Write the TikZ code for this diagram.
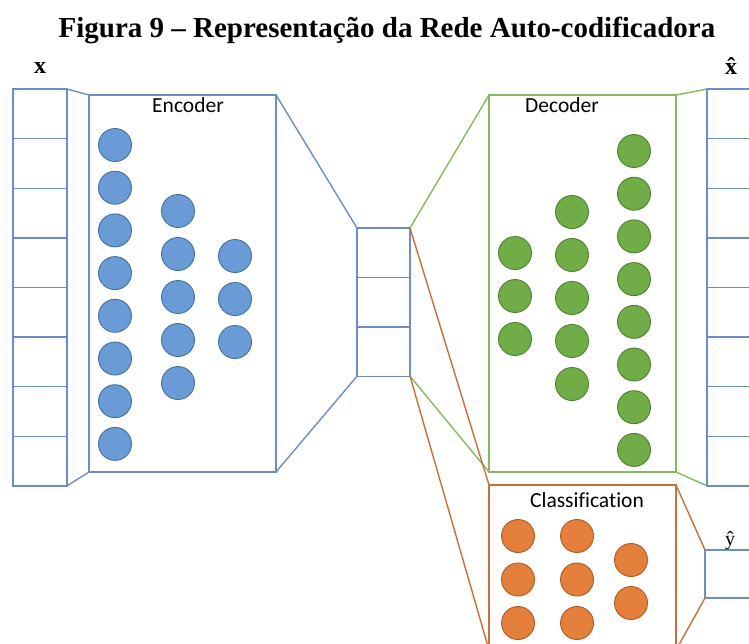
\documentclass[tikz,border=0pt]{standalone}
\usepackage{fontspec}
\setmainfont{Liberation Serif}
\newfontfamily\calibri[Ligatures=NoCommon]{Carlito}
\usepackage{tikz}

\definecolor{lineblue}{HTML}{6C8EC4}
\definecolor{fillblue}{HTML}{6A9BD6}
\definecolor{edgeblue}{HTML}{41719C}
\definecolor{linegreen}{HTML}{86B860}
\definecolor{fillgreen}{HTML}{70AD47}
\definecolor{edgegreen}{HTML}{507E32}
\definecolor{lineorange}{HTML}{C9703A}
\definecolor{fillorange}{HTML}{E47F3C}
\definecolor{edgeorange}{HTML}{AE5A21}

\tikzset{
	box/.style={draw=line#1,line width=1.4pt,inner sep=0pt,outer sep=0pt},
	cell/.style={box=blue,minimum width=54pt,minimum height=49.6pt},
	unit/.style={circle,draw=edge#1,fill=fill#1,line width=0.9pt,minimum size=33pt,inner sep=0pt},
	lbl/.style={font=\calibri\fontsize{21.5}{21.5}\selectfont,anchor=base},
	link/.style={line#1,line width=1.4pt}
}

\begin{document}
\begin{tikzpicture}[x=1pt,y=-1pt]
\useasboundingbox (0,0) rectangle (749,643);
\clip (0,0) rectangle (749,643);

% title
\node[font=\bfseries\fontsize{29}{29}\selectfont,anchor=base] (title) at (387,37)
	{Figura 9 -- Representação da Rede Auto-codificadora};

% input and output vectors
\foreach \i in {1,...,8} {
	\node[cell] (in\i) at (40,{64.2+49.6*\i}) {};
	\node[cell] (out\i) at (734,{64.2+49.6*\i}) {};
}
\node[font=\bfseries\fontsize{24}{24}\selectfont,anchor=base] (xlab) at (40,73) {x};
\node[font=\bfseries\fontsize{24}{24}\selectfont,anchor=base] (xhat) at (731,74) {\^{x}};

% code (bottleneck)
\foreach \i in {1,2,3}
	\node[cell,minimum width=53pt,minimum height=49.4pt] (code\i) at (383.5,{203.3+49.4*\i}) {};

% encoder
\node[box=blue,minimum width=187pt,minimum height=377pt] (enc) at (182.5,283.5) {};
\node[lbl] (enclab) at (188,112) {Encoder};
\foreach \i in {0,...,7}
	\node[unit=blue] (ea\i) at (115,{145+42.7*\i}) {};
\foreach \i in {0,...,4}
	\node[unit=blue] (eb\i) at (178,{211+43*\i}) {};
\foreach \i in {0,...,2}
	\node[unit=blue] (ec\i) at (235,{256+43*\i}) {};

% decoder
\node[box=green,minimum width=187pt,minimum height=377pt] (dec) at (582.5,283.5) {};
\node[lbl] (declab) at (562,112) {Decoder};
\foreach \i in {0,...,2}
	\node[unit=green] (da\i) at (515,{253+43*\i}) {};
\foreach \i in {0,...,4}
	\node[unit=green] (db\i) at (572,{212+43*\i}) {};
\foreach \i in {0,...,7}
	\node[unit=green] (dc\i) at (634,{151+42.7*\i}) {};

% classification
\node[box=orange,minimum width=187pt,minimum height=165pt] (cls) at (582.5,567.5) {};
\node[lbl] (clslab) at (587,507) {Classification};
\foreach \i in {0,...,2} {
	\node[unit=orange] (ca\i) at (518,{536+43.5*\i}) {};
	\node[unit=orange] (cb\i) at (577,{536+43.5*\i}) {};
}
\foreach \i in {0,1}
	\node[unit=orange] (cc\i) at (631,{560+43*\i}) {};

% prediction
\node[cell,minimum height=48pt] (yhat) at (732,574) {};
\node[font=\fontsize{20}{20}\selectfont,anchor=base] (ylab) at (730,545) {ŷ};

% connectors
\draw[link=blue] (in1.north east) -- (enc.north west)
	(in8.south east) -- (enc.south west)
	(enc.north east) -- (code1.north west)
	(enc.south east) -- (code3.south west);
\draw[link=green] (code1.north east) -- (dec.north west)
	(code3.south east) -- (dec.south west)
	(dec.north east) -- (out1.north west)
	(dec.south east) -- (out8.south west);
\draw[link=orange] (code1.north east) -- (cls.north west)
	(code3.south east) -- (cls.south west)
	(cls.north east) -- (yhat.north west)
	(cls.south east) -- (yhat.south west);

\end{tikzpicture}
\end{document}
